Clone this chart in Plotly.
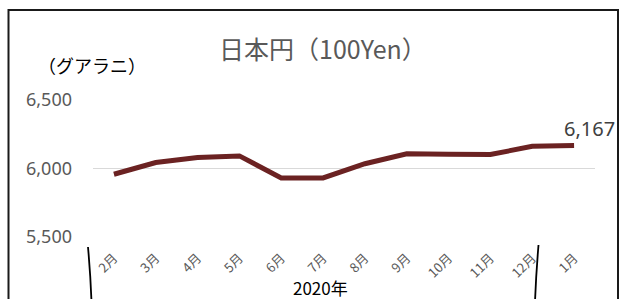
import plotly.graph_objects as go

months = ["2月", "3月", "4月", "5月", "6月", "7月", "8月", "9月", "10月", "11月", "12月", "1月"]
values = [5958, 6044, 6080, 6092, 5931, 5931, 6035, 6108, 6104, 6102, 6162, 6167]
y_ticks = [5500, 6000, 6500]
y_tick_labels = ["5,500", "6,000", "6,500"]
title_text = "日本円（100Yen）"
unit_text = "（グアラニ）"
year_text = "2020年"

W, H = 623, 299
ML, MR, MT, MB = 93, 28, 100, 62
PW, PH = W - ML - MR, H - MT - MB


def px(x):
    return (x - ML) / PW


def py(y):
    return (H - MB - y) / PH


CJK = "Noto Sans CJK JP"
LAT = "Noto Sans"

fig = go.Figure()
fig.add_trace(go.Scatter(
    x=months, y=values, mode="lines",
    line=dict(color="#6b2222", width=5),
    hoverinfo="skip", showlegend=False,
))

fig.update_layout(
    width=W, height=H,
    margin=dict(l=ML, r=MR, t=MT, b=MB, pad=0),
    paper_bgcolor="white", plot_bgcolor="white",
    showlegend=False,
    xaxis=dict(
        type="category", range=[-0.5, len(months) - 0.5],
        showgrid=False, zeroline=False, showline=False, ticks="",
        tickangle=-45, tickfont=dict(family=CJK, size=13, color="#595959"),
        ticklabelstandoff=10, fixedrange=True,
    ),
    yaxis=dict(
        range=[5500, 6500], tickvals=y_ticks, ticktext=y_tick_labels,
        showgrid=True, gridcolor="#d9d9d9", gridwidth=1.5,
        zeroline=False, showline=False, ticks="",
        tickfont=dict(family=LAT, size=18, color="#595959"),
        ticklabelstandoff=20, fixedrange=True,
    ),
)

# chart border
fig.add_shape(type="rect", xref="paper", yref="paper",
              x0=px(8.5), x1=px(618), y0=py(312), y1=py(10),
              line=dict(color="#1a1a1a", width=2), fillcolor="rgba(0,0,0,0)", layer="above")

# group brackets
fig.add_shape(type="path", xref="paper", yref="paper",
              path=f"M {px(88)},{py(247)} Q {px(90.5)},{py(275)} {px(91.5)},{py(302)}",
              line=dict(color="black", width=1.8))
fig.add_shape(type="path", xref="paper", yref="paper",
              path=f"M {px(538.5)},{py(245)} Q {px(536)},{py(275)} {px(535)},{py(302)}",
              line=dict(color="black", width=1.8))

# title
fig.add_annotation(text=title_text, xref="paper", yref="paper",
                   x=px(323), y=py(47.5), xanchor="center", yanchor="middle",
                   showarrow=False, font=dict(family=CJK, size=25, color="#595959"))
# unit label
fig.add_annotation(text=unit_text, xref="paper", yref="paper",
                   x=px(92), y=py(65), xanchor="center", yanchor="middle",
                   showarrow=False, font=dict(family=CJK, size=18, color="black"))
# year label
fig.add_annotation(text=year_text, xref="paper", yref="paper",
                   x=px(320), y=py(287), xanchor="center", yanchor="middle",
                   showarrow=False, font=dict(family=CJK, size=17, color="black"))
# data label for last point
fig.add_annotation(text=f"{values[-1]:,}", x=months[-1], y=values[-1],
                   xanchor="left", yanchor="bottom", xshift=-12, yshift=2,
                   showarrow=False, font=dict(family=LAT, size=20, color="#404040"))

fig.write_html(
    "out.html",
    config={"displayModeBar": False, "staticPlot": True},
    post_script="document.body.style.margin='0';document.body.style.overflow='hidden';",
)
